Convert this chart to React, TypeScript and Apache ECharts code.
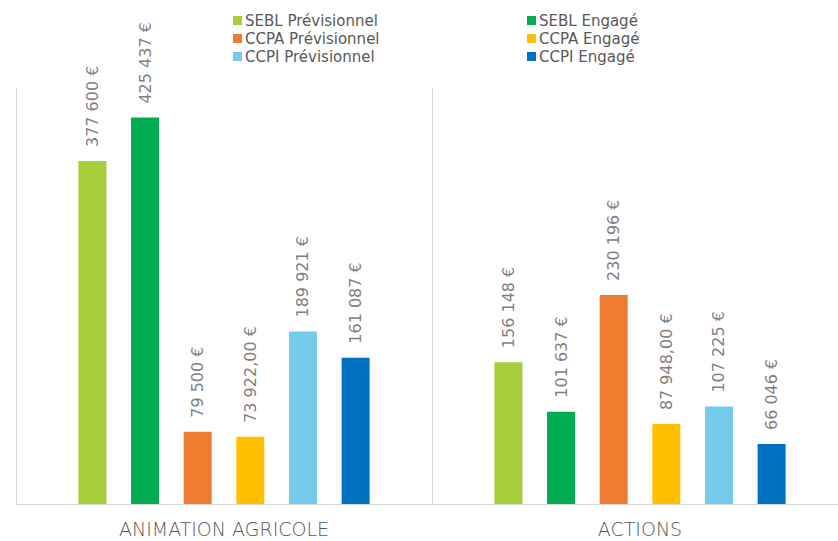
import React, { useEffect, useRef } from "react";
import * as echarts from "echarts";

const categories = ["ANIMATION AGRICOLE", "ACTIONS"];
const seriesNames = [
  "SEBL Prévisionnel",
  "SEBL Engagé",
  "CCPA Prévisionnel",
  "CCPA Engagé",
  "CCPI Prévisionnel",
  "CCPI Engagé",
];
const sebPrev = [377600, 156148];
const sebEng = [425437, 101637];
const ccpaPrev = [79500, 230196];
const ccpaEng = [73922, 87948];
const ccpiPrev = [189921, 107225];
const ccpiEng = [161087, 66046];
const sebPrevLabels = ["377 600 €", "156 148 €"];
const sebEngLabels = ["425 437 €", "101 637 €"];
const ccpaPrevLabels = ["79 500 €", "230 196 €"];
const ccpaEngLabels = ["73 922,00 €", "87 948,00 €"];
const ccpiPrevLabels = ["189 921 €", "107 225 €"];
const ccpiEngLabels = ["161 087 €", "66 046 €"];
const colors = ["#A6CE39", "#00AC4F", "#ED7D31", "#FFC000", "#74CBEC", "#0070C0"];

const values = [sebPrev, sebEng, ccpaPrev, ccpaEng, ccpiPrev, ccpiEng];
const labels = [sebPrevLabels, sebEngLabels, ccpaPrevLabels, ccpaEngLabels, ccpiPrevLabels, ccpiEngLabels];

const FONT = "DejaVu Sans";

export default function App() {
  const ref = useRef<HTMLDivElement>(null);
  useEffect(() => {
    document.body.style.margin = "0";
    if (!ref.current) return;
    const chart = echarts.init(ref.current, undefined, { renderer: "svg" });
    const legendCommon = {
      orient: "vertical" as const,
      top: 8,
      itemWidth: 9,
      itemHeight: 9,
      itemGap: 3,
      icon: "rect",
      textStyle: { color: "#595959", fontSize: 15, fontFamily: FONT, padding: [0, 0, 0, -2] },
    };
    chart.setOption({
      animation: false,
      backgroundColor: "#ffffff",
      textStyle: { fontFamily: FONT },
      legend: [
        { ...legendCommon, left: 228, data: [seriesNames[0], seriesNames[2], seriesNames[4]] },
        { ...legendCommon, left: 522, data: [seriesNames[1], seriesNames[3], seriesNames[5]] },
      ],
      grid: { left: 16, top: 88, width: 832, bottom: 37, outerBoundsMode: "none", containLabel: false },
      xAxis: {
        type: "category",
        data: categories,
        axisLine: { lineStyle: { color: "#D9D9D9", width: 1 } },
        axisTick: { show: false },
        splitLine: { show: true, showMinLine: true, showMaxLine: true, lineStyle: { color: "#D9D9D9", width: 1 } },
        axisLabel: { color: "#595959", fontSize: 19, fontFamily: FONT, fontWeight: 300, margin: 15 },
      },
      yAxis: {
        type: "value",
        min: 0,
        max: 458000,
        show: true,
        axisLine: { show: true, lineStyle: { color: "#D9D9D9", width: 1 } },
        axisTick: { show: false },
        axisLabel: { show: false },
        splitLine: { show: false },
      },
      series: seriesNames.map((name, i) => ({
        name,
        type: "bar",
        data: values[i],
        itemStyle: { color: colors[i] },
        barCategoryGap: "30%",
        barGap: "88%",
        label: {
          show: true,
          position: "top",
          rotate: 90,
          align: "left",
          verticalAlign: "middle",
          distance: 14,
          color: "#7F7F7F",
          fontSize: 16,
          fontFamily: FONT,
          formatter: (p: any) => labels[i][p.dataIndex],
        },
      })),
    });
    return () => chart.dispose();
  }, []);
  return <div ref={ref} style={{ width: 838, height: 541 }} />;
}
